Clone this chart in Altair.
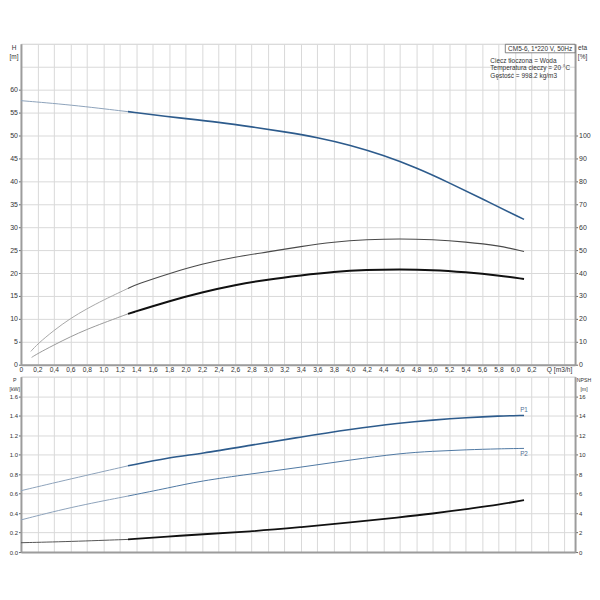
import altair as alt
import pandas as pd

FONT = "Liberation Sans"
TXT = "#333333"

# ---------------- data ----------------
# flow axis
Q_MAX = 6.73
q_ticks = [round(i * 0.2, 1) for i in range(34)]  # 0 .. 6.6

# head curve H [m]
h_q = [0.0, 0.6, 1.3, 1.8, 2.0, 2.4, 2.8, 3.2, 3.6, 4.0, 4.4, 4.8, 5.2, 5.6, 6.11]
h_val = [57.6, 56.7, 55.2, 54.1, 53.7, 52.9, 51.9, 50.8, 49.6, 47.9, 45.7, 43.0, 39.7, 36.2, 31.7]

# efficiency curves eta [%]
e1_q = [0.12, 0.2, 0.4, 0.6, 0.8, 1.0, 1.3, 1.4, 1.8, 2.2, 2.6, 3.0, 3.4, 3.8, 4.2, 4.6, 5.0, 5.4, 5.8, 6.11]
e1_val = [5.8, 9.0, 15.0, 20.2, 24.4, 28.2, 33.3, 35.0, 39.8, 44.0, 47.0, 49.2, 51.6, 53.6, 54.6, 55.0, 54.6, 53.6, 52.0, 49.4]
e2_q = [0.13, 0.2, 0.4, 0.6, 0.8, 1.0, 1.3, 1.8, 2.2, 2.6, 3.0, 3.4, 3.8, 4.2, 4.6, 5.0, 5.4, 5.8, 6.11]
e2_val = [3.2, 4.8, 8.6, 12.2, 15.4, 18.2, 22.2, 27.8, 31.6, 34.8, 37.2, 39.0, 40.6, 41.4, 41.6, 41.4, 40.4, 39.0, 37.4]

# power curves P1, P2 [kW] and NPSH [m]
p_q = [0.0, 0.6, 1.3, 1.8, 2.18, 2.78, 3.39, 4.0, 4.6, 5.0, 5.41, 5.81, 6.11]
p1_val = [0.63, 0.75, 0.885, 0.97, 1.01, 1.095, 1.18, 1.26, 1.325, 1.355, 1.38, 1.397, 1.402]
p2_val = [0.33, 0.46, 0.575, 0.66, 0.73, 0.80, 0.87, 0.945, 1.013, 1.035, 1.05, 1.06, 1.064]
npsh_val = [0.96, 1.08, 1.30, 1.60, 1.82, 2.10, 2.55, 3.03, 3.57, 3.94, 4.42, 4.86, 5.34]

SPLIT = 1.3

title_box = "CM5-6, 1*220 V, 50Hz"
info_lines = ["Ciecz tłoczona = Woda", "Temperatura cieczy = 20 °C", "Gęstość = 998.2 kg/m3"]


def frame(qs, vals, name):
    rows = []
    for q, v in zip(qs, vals):
        if q <= SPLIT:
            rows.append({"Q": q, name: v, "part": "thin"})
        if q >= SPLIT:
            rows.append({"Q": q, name: v, "part": "thick"})
    return pd.DataFrame(rows)


h_df = frame(h_q, h_val, "H")
e1_df = frame(e1_q, e1_val, "eta")
e2_df = frame(e2_q, e2_val, "eta")
p1_df = frame(p_q, p1_val, "P")
p2_df = frame(p_q, p2_val, "P")
np_df = frame(p_q, npsh_val, "NPSH")

W = 556
H_TOP = 322
H_BOT = 176

GRID = "#d9d9d9"
DOM = "#9c9c9c"

x_scale = alt.Scale(domain=[0, Q_MAX], nice=False, zero=False)

x_axis_top = alt.Axis(
    values=q_ticks, grid=True, gridColor=GRID, gridWidth=1, domainColor=DOM, domainWidth=2,
    ticks=False, labelFlush=False, labelOverlap=False, labelPadding=2,
    labelExpr="datum.value > 6.25 ? '' : (datum.value == 0 ? '0' : replace(format(datum.value, '.1f'), '.', ','))",
    labelFont=FONT, labelFontSize=6.7, labelColor=TXT,
    title="Q [m3/h]", titleX=540, titleY=2, titleAlign="center", titleBaseline="top",
    titleFont=FONT, titleFontSize=6.7, titleFontWeight="normal", titleColor=TXT,
)
x_axis_bot = alt.Axis(
    values=q_ticks, grid=True, gridColor=GRID, gridWidth=1, domainColor=DOM, domainWidth=2,
    ticks=False, labels=False, title=None,
)


def left_axis(vals, shown_max, fmt, title, tx, fs, tfs):
    return alt.Axis(
        values=vals, grid=True, gridColor=GRID, gridWidth=1, domainColor=DOM, domainWidth=2,
        tickColor="#666666", tickSize=2.5,
        tickOpacity={"condition": {"test": f"datum.value > {shown_max}", "value": 0}, "value": 1},
        labelExpr=f"datum.value > {shown_max} ? '' : format(datum.value, '{fmt}')",
        labelFont=FONT, labelFontSize=fs, labelColor=TXT, labelPadding=1,
        title=title, titleAngle=0, titleX=tx, titleY=1, titleAlign="center", titleBaseline="top",
        titleFont=FONT, titleFontSize=tfs, titleFontWeight="normal", titleColor=TXT, titleLineHeight=9,
    )


def right_axis(vals, title, tx, fs, tfs):
    return alt.Axis(
        orient="right", values=vals, grid=False, domainColor=DOM, domainWidth=2,
        tickColor="#666666", tickSize=2.5, labelFont=FONT, labelFontSize=fs, labelColor=TXT, labelPadding=1,
        title=title, titleAngle=0, titleX=tx, titleY=1, titleAlign="center", titleBaseline="top",
        titleFont=FONT, titleFontSize=tfs, titleFontWeight="normal", titleColor=TXT, titleLineHeight=9,
    )


h_axis = left_axis(list(range(0, 71, 5)), 60, "d", ["H", "[m]"], -7.5, 7, 6.5)
eta_axis = right_axis(list(range(0, 101, 10)), ["eta", "[%]"], 7, 7, 6.5)
p_axis = left_axis([round(i * 0.2, 1) for i in range(10)], 1.65, ".1f", ["P", "[kW]"], -6.7, 6, 5.3)
npsh_axis = right_axis(list(range(0, 17, 2)), ["NPSH", "[m]"], 8.5, 6, 5.2)


def curve(df, field, scale, axis, xaxis, part, color, width):
    return alt.Chart(df).transform_filter(alt.datum.part == part).mark_line(
        color=color, strokeWidth=width, interpolate="basis"
    ).encode(
        x=alt.X("Q:Q", scale=x_scale, axis=xaxis),
        y=alt.Y(f"{field}:Q", scale=scale, axis=axis),
    )


BLUE = "#2d5b8c"
BLUE_THIN = "#8ea3bb"

h_scale = alt.Scale(domain=[0, 70], nice=False)
eta_scale = alt.Scale(domain=[0, 140], nice=False)

h_layer = alt.layer(
    curve(h_df, "H", h_scale, h_axis, x_axis_top, "thin", BLUE_THIN, 1),
    curve(h_df, "H", h_scale, h_axis, x_axis_top, "thick", BLUE, 1.6),
)

eta_layer = alt.layer(
    curve(e1_df, "eta", eta_scale, eta_axis, x_axis_top, "thin", "#a8a8a8", 1),
    curve(e1_df, "eta", eta_scale, eta_axis, x_axis_top, "thick", "#4a4a4a", 1.1),
    curve(e2_df, "eta", eta_scale, eta_axis, x_axis_top, "thin", "#9a9a9a", 1),
    curve(e2_df, "eta", eta_scale, eta_axis, x_axis_top, "thick", "#111111", 2),
)

box_df = pd.DataFrame({"t": [title_box]})
box_rect = alt.Chart(box_df).mark_rect(fill="white", stroke="#666666", strokeWidth=0.8).encode(
    x=alt.value(486), x2=alt.value(W), y=alt.value(0.5), y2=alt.value(9)
)
box_text = alt.Chart(box_df).mark_text(
    font=FONT, fontSize=6.5, color=TXT, align="center", baseline="middle"
).encode(x=alt.value(521), y=alt.value(4.8), text="t:N")

info_df = pd.DataFrame({"t": info_lines, "i": list(range(len(info_lines)))})
info_text = alt.Chart(info_df).mark_text(
    font=FONT, fontSize=6.5, color=TXT, align="left", baseline="middle"
).transform_calculate(yy="17 + datum.i * 7.5").encode(
    x=alt.value(471), y=alt.Y("yy:Q", scale=None, axis=None), text="t:N"
)

top = alt.layer(h_layer, eta_layer, box_rect, box_text, info_text).resolve_scale(y="independent").properties(
    width=W, height=H_TOP
)

p_scale = alt.Scale(domain=[0, 1.8], nice=False)
np_scale = alt.Scale(domain=[0, 18], nice=False)

p_layer = alt.layer(
    curve(p1_df, "P", p_scale, p_axis, x_axis_bot, "thin", BLUE_THIN, 1),
    curve(p1_df, "P", p_scale, p_axis, x_axis_bot, "thick", BLUE, 1.6),
    curve(p2_df, "P", p_scale, p_axis, x_axis_bot, "thin", BLUE_THIN, 1),
    curve(p2_df, "P", p_scale, p_axis, x_axis_bot, "thick", "#4f78a3", 1),
)

lab_df = pd.DataFrame({"Q": [p_q[-1], p_q[-1]], "P": [p1_val[-1], p2_val[-1]], "t": ["P1", "P2"]})
labels = alt.layer(
    alt.Chart(lab_df.iloc[[0]]).mark_text(font=FONT, fontSize=6.3, color="#4f6f94", dy=-5, baseline="middle")
    .encode(x=alt.X("Q:Q", scale=x_scale, axis=x_axis_bot), y=alt.Y("P:Q", scale=p_scale, axis=p_axis), text="t:N"),
    alt.Chart(lab_df.iloc[[1]]).mark_text(font=FONT, fontSize=6.3, color="#4f6f94", dy=6, baseline="middle")
    .encode(x=alt.X("Q:Q", scale=x_scale, axis=x_axis_bot), y=alt.Y("P:Q", scale=p_scale, axis=p_axis), text="t:N"),
)

np_layer = alt.layer(
    curve(np_df, "NPSH", np_scale, npsh_axis, x_axis_bot, "thin", "#555555", 1),
    curve(np_df, "NPSH", np_scale, npsh_axis, x_axis_bot, "thick", "#111111", 1.8),
)

bottom = alt.layer(alt.layer(p_layer, labels), np_layer).resolve_scale(y="independent").properties(
    width=W, height=H_BOT
)

chart = alt.vconcat(top, bottom, spacing=12, bounds="flush").properties(
    padding={"left": 0, "top": 34, "right": 0, "bottom": 0}
).configure_view(stroke=None).configure(font=FONT)

chart.save("out.html", embed_options={"renderer": "svg", "actions": False})
